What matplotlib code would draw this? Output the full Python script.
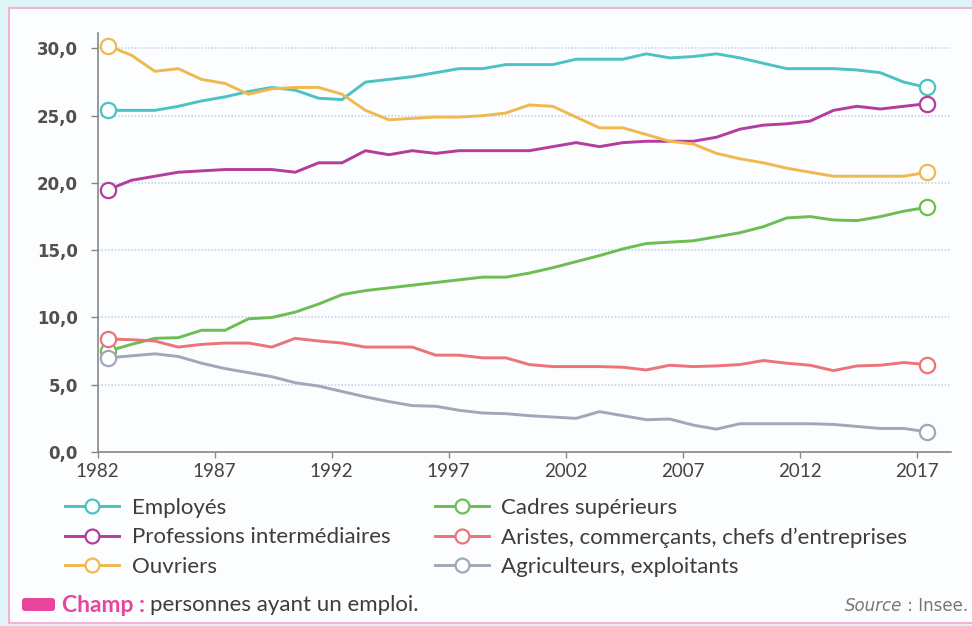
import matplotlib
matplotlib.use( "Agg" )
import matplotlib.pyplot as plt
from matplotlib.patches import Rectangle, FancyBboxPatch
import numpy as np

# --- data (share of employed persons, %) --- #
years = list( range( 1982, 2018 ) )

employes = [ 25.4, 25.4, 25.4, 25.7, 26.1, 26.4, 26.8, 27.1, 26.9, 26.3,
			26.2, 27.5, 27.7, 27.9, 28.2, 28.5, 28.5, 28.8, 28.8, 28.8,
			29.2, 29.2, 29.2, 29.6, 29.3, 29.4, 29.6, 29.3, 28.9, 28.5,
			28.5, 28.5, 28.4, 28.2, 27.5, 27.1 ]
professions = [ 19.5, 20.2, 20.5, 20.8, 20.9, 21.0, 21.0, 21.0, 20.8, 21.5,
			21.5, 22.4, 22.1, 22.4, 22.2, 22.4, 22.4, 22.4, 22.4, 22.7,
			23.0, 22.7, 23.0, 23.1, 23.1, 23.1, 23.4, 24.0, 24.3, 24.4,
			24.6, 25.4, 25.7, 25.5, 25.7, 25.9 ]
ouvriers = [ 30.2, 29.5, 28.3, 28.5, 27.7, 27.4, 26.6, 27.0, 27.1, 27.1,
			26.6, 25.4, 24.7, 24.8, 24.9, 24.9, 25.0, 25.2, 25.8, 25.7,
			24.9, 24.1, 24.1, 23.6, 23.1, 22.9, 22.2, 21.8, 21.5, 21.1,
			20.8, 20.5, 20.5, 20.5, 20.5, 20.8 ]
cadres = [ 7.5, 8.0, 8.45, 8.5, 9.05, 9.05, 9.9, 10.0, 10.4, 11.0,
			11.7, 12.0, 12.2, 12.4, 12.6, 12.8, 13.0, 13.0, 13.3, 13.7,
			14.15, 14.6, 15.1, 15.5, 15.6, 15.7, 16.0, 16.3, 16.75, 17.4,
			17.5, 17.25, 17.2, 17.5, 17.9, 18.2 ]
artisans = [ 8.4, 8.35, 8.25, 7.8, 8.0, 8.1, 8.1, 7.8, 8.45, 8.25,
			8.1, 7.8, 7.8, 7.8, 7.2, 7.2, 7.0, 7.0, 6.5, 6.35,
			6.35, 6.35, 6.3, 6.1, 6.45, 6.35, 6.4, 6.5, 6.8, 6.6,
			6.45, 6.05, 6.4, 6.45, 6.65, 6.5 ]
agriculteurs = [ 7.0, 7.15, 7.3, 7.1, 6.6, 6.2, 5.9, 5.6, 5.15, 4.9,
			4.5, 4.1, 3.75, 3.45, 3.4, 3.1, 2.9, 2.85, 2.7, 2.6,
			2.5, 3.0, 2.7, 2.4, 2.45, 2.0, 1.7, 2.1, 2.1, 2.1,
			2.1, 2.05, 1.9, 1.75, 1.75, 1.5 ]

labels = [ "Employés", "Professions intermédiaires", "Ouvriers",
			"Cadres supérieurs", "Aristes, commerçants, chefs d’entreprises", "Agriculteurs, exploitants" ]
colors = [ "#4cc2c4", "#b33c9e", "#f0b950", "#6cbd52", "#ec7377", "#a3a6b8" ]

xticks = list( range( 1982, 2018, 5 ) )
yticks = [ 0, 5, 10, 15, 20, 25, 30 ]

W, H = 972.0, 626.0
narrow = [ "Lato", "DejaVu Sans" ]
# --- end of data --- #


def px( x, y ):
	"""! @brief pixel position (from top left) to figure fraction """
	return x / W, 1 - y / H


def main():
	"""! @brief draw everything """
	
	fig = plt.figure( figsize=( W / 100, H / 100 ), dpi=100 )
	fig.patch.set_facecolor( "#dff4f6" )
	
	# --- panel with pink frame --- #
	x0, y0 = px( 9, 623 )
	fig.patches.append( Rectangle( ( x0, y0 ), 1.0, ( 623 - 8 ) / H, transform=fig.transFigure,
		facecolor="#fbfdfe", edgecolor="#f0b3d6", linewidth=1.5, zorder=-5 ) )
	
	ax = fig.add_axes( [ 97.5 / W, 1 - 452 / H, ( 951 - 97.5 ) / W, ( 452 - 33 ) / H ] )
	ax.set_facecolor( "none" )
	ax.set_zorder( 2 )
	
	xs = np.array( years ) + 0.45
	series = [ employes, professions, ouvriers, cadres, artisans, agriculteurs ]
	for vals, lab, col in zip( series, labels, colors ):
		ax.plot( xs, vals, color=col, linewidth=2.1, label=lab,
			marker="o", markevery=[ 0, -1 ], markersize=11, markerfacecolor="white",
			markeredgecolor=col, markeredgewidth=1.6, zorder=3, clip_on=False )
	
	ax.set_xlim( 1982, 2018.47 )
	ax.set_ylim( 0, 31.15 )
	
	ax.set_xticks( xticks )
	ax.set_xticklabels( [ str( y ) for y in xticks ], family=narrow, fontsize=13.5, color="#444444" )
	ax.set_yticks( yticks )
	ax.set_yticklabels( [ ( "%.1f" % v ).replace( ".", "," ) for v in yticks ],
		fontsize=12, fontweight="bold", color="#505050" )
	ax.tick_params( axis="y", length=5, width=1, color="#888888", pad=9 )
	ax.tick_params( axis="x", length=4, width=1, color="#888888", pad=4 )
	
	ax.grid( axis="y", linestyle=( 0, ( 1, 1 ) ), color="#cdd4ea", linewidth=1.2, zorder=1 )
	ax.spines[ "top" ].set_visible( False )
	ax.spines[ "right" ].set_visible( False )
	ax.spines[ "left" ].set_color( "#888888" )
	ax.spines[ "bottom" ].set_color( "#888888" )
	ax.spines[ "left" ].set_linewidth( 1.2 )
	ax.spines[ "bottom" ].set_linewidth( 1.2 )
	
	# --- legend below the axes --- #
	handles, labs = ax.get_legend_handles_labels()
	leg = fig.legend( handles, labs, ncol=2, loc="upper left", bbox_to_anchor=px( 65, 498 ),
		frameon=False, numpoints=1, handlelength=2.45, handletextpad=0.55, columnspacing=2.0,
		labelspacing=0.42, borderpad=0, borderaxespad=0,
		prop={ "family": narrow, "size": 16 } )
	for t in leg.get_texts():
		t.set_color( "#3d3d3d" )
	for h in leg.legend_handles:
		h.set_markersize( 10 )
	
	# --- footer --- #
	bx, by = px( 22, 611 )
	fig.patches.append( FancyBboxPatch( ( bx, by ), 33 / W, 13 / H, boxstyle="round,pad=0,rounding_size=0.004",
		transform=fig.transFigure, facecolor="#e8459c", edgecolor="none" ) )
	tx, ty = px( 62, 605 )
	t1 = fig.text( tx, ty, "Champ :", color="#e8459c", fontsize=16.5, fontweight="bold",
		family=narrow, va="center", ha="left" )
	fig.canvas.draw()
	bb = t1.get_window_extent()
	fig.text( ( bb.x1 + 5 ) / W, ty, "personnes ayant un emploi.", color="#3d3d3d", fontsize=16,
		family=narrow, va="center", ha="left" )
	sx, sy = px( 968, 606 )
	t3 = fig.text( sx, sy, " : Insee.", color="#777777", fontsize=12, va="center", ha="right" )
	fig.canvas.draw()
	bb = t3.get_window_extent()
	fig.text( bb.x0 / W, sy, "Source", color="#777777", fontsize=12, style="italic", va="center", ha="right" )
	
	fig.savefig( "out.png", dpi=100, facecolor=fig.get_facecolor() )


main()
